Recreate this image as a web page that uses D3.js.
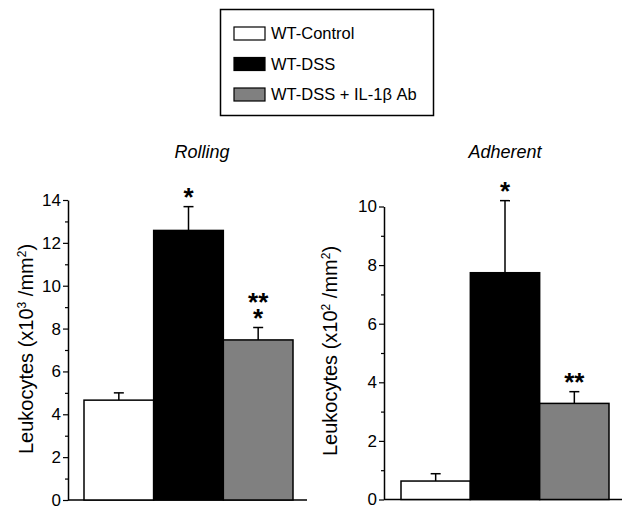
<!DOCTYPE html>
<html>
<head>
<meta charset="utf-8">
<script src="https://cdn.jsdelivr.net/npm/d3@7"></script>
<style>
  body { margin: 0; background: #fff; }
  text { font-family: "Liberation Sans", Arial, sans-serif; }
</style>
</head>
<body>
<script>
// groups and colours
var groups = ["WT-Control", "WT-DSS", "WT-DSS + IL-1\u03b2 Ab"];
var fills = ["#ffffff", "#000000", "#808080"];

// Rolling panel
var rollingMean = [4.66, 12.58, 7.47];
var rollingErr = [0.34, 1.11, 0.58];
var rollingStars = [[], ["*"], ["**", "*"]];
var rollingTicks = [0, 2, 4, 6, 8, 10, 12, 14];
var rollingMinor = [1, 3, 5, 7, 9, 11, 13];

// Adherent panel
var adherentMean = [0.63, 7.74, 3.28];
var adherentErr = [0.25, 2.46, 0.40];
var adherentStars = [[], ["*"], ["**"]];
var adherentTicks = [0, 2, 4, 6, 8, 10];
var adherentMinor = [1, 3, 5, 7, 9];

var w = 624, h = 506;

var svg = d3.select("body")
    .append("svg")
    .attr("width", w)
    .attr("height", h);

// legend
var legend = svg.append("g");
legend.append("rect")
    .attr("x", 220.5).attr("y", 9.5)
    .attr("width", 213).attr("height", 106)
    .attr("fill", "none")
    .attr("stroke", "#000")
    .attr("stroke-width", 1.5);

var legendY = d3.scalePoint().domain(groups).range([33, 94]);

legend.selectAll(".sw")
    .data(groups)
    .enter()
    .append("rect")
    .attr("x", 234)
    .attr("y", function (d) { return legendY(d) - 6; })
    .attr("width", 31)
    .attr("height", 13)
    .attr("fill", function (d, i) { return fills[i]; })
    .attr("stroke", "#000")
    .attr("stroke-width", 1.2);

legend.selectAll(".lt")
    .data(groups)
    .enter()
    .append("text")
    .attr("x", 271)
    .attr("y", function (d) { return legendY(d) + 6; })
    .attr("font-size", "16.5px")
    .text(function (d) { return d; });

function drawPanel(opt) {
    var g = svg.append("g");

    var y = d3.scaleLinear().domain([0, opt.max]).range([opt.y0, opt.y1]);
    var x = d3.scaleBand().domain(groups).range([opt.bx0, opt.bx1]).padding(0);

    // x axis line
    g.append("line")
        .attr("x1", opt.ax).attr("x2", opt.axEnd)
        .attr("y1", opt.y0).attr("y2", opt.y0)
        .attr("stroke", "#000").attr("stroke-width", 1.5);

    // minor ticks
    g.append("g")
        .attr("transform", "translate(" + opt.ax + ",0)")
        .call(d3.axisLeft(y).tickValues(opt.minor).tickSize(3).tickSizeOuter(0).tickFormat(""))
        .call(function (a) {
            a.select(".domain").remove();
            a.selectAll("line").attr("stroke-width", 1.2);
        });

    // major ticks
    g.append("g")
        .attr("transform", "translate(" + opt.ax + ",0)")
        .call(d3.axisLeft(y).tickValues(opt.ticks).tickSize(5).tickSizeOuter(0).tickPadding(2))
        .call(function (a) {
            a.select(".domain").attr("stroke-width", 1.5);
            a.selectAll("line").attr("stroke-width", 1.2);
            a.selectAll("text")
                .attr("font-size", "17px")
                .attr("font-family", "'Liberation Sans', Arial, sans-serif")
                .attr("fill", "#000");
        });

    // error bars
    g.selectAll(".err")
        .data(opt.mean)
        .enter()
        .append("line")
        .attr("x1", function (d, i) { return x(groups[i]) + x.bandwidth() / 2; })
        .attr("x2", function (d, i) { return x(groups[i]) + x.bandwidth() / 2; })
        .attr("y1", function (d) { return y(d); })
        .attr("y2", function (d, i) { return y(d + opt.err[i]); })
        .attr("stroke", "#000").attr("stroke-width", 1.5);

    g.selectAll(".cap")
        .data(opt.mean)
        .enter()
        .append("line")
        .attr("x1", function (d, i) { return x(groups[i]) + x.bandwidth() / 2 - 5; })
        .attr("x2", function (d, i) { return x(groups[i]) + x.bandwidth() / 2 + 5; })
        .attr("y1", function (d, i) { return y(d + opt.err[i]); })
        .attr("y2", function (d, i) { return y(d + opt.err[i]); })
        .attr("stroke", "#000").attr("stroke-width", 1.5);

    // bars
    g.selectAll(".bar")
        .data(opt.mean)
        .enter()
        .append("rect")
        .attr("x", function (d, i) { return x(groups[i]); })
        .attr("y", function (d) { return y(d); })
        .attr("width", x.bandwidth())
        .attr("height", function (d) { return opt.y0 - y(d); })
        .attr("fill", function (d, i) { return fills[i]; })
        .attr("stroke", "#000")
        .attr("stroke-width", 1.5);

    // significance stars
    opt.stars.forEach(function (lines, i) {
        var top = y(opt.mean[i] + opt.err[i]);
        lines.slice().reverse().forEach(function (s, j) {
            g.append("text")
                .attr("x", x(groups[i]) + x.bandwidth() / 2)
                .attr("y", top - 1 - j * 16)
                .attr("text-anchor", "middle")
                .attr("font-size", "26px")
                .attr("font-weight", "bold")
                .text(s);
        });
    });

    // title
    g.append("text")
        .attr("x", opt.titleX)
        .attr("y", 158)
        .attr("text-anchor", "middle")
        .attr("font-size", "18px")
        .attr("font-style", "italic")
        .text(opt.title);

    // y label
    var lab = g.append("text")
        .attr("text-anchor", "middle")
        .attr("font-size", "20px")
        .attr("transform", "translate(" + opt.labX + "," + opt.labY + ") rotate(-90)");
    lab.append("tspan").text("Leukocytes (x10");
    lab.append("tspan").attr("font-size", "12px").attr("dy", "-7").text(opt.exp);
    lab.append("tspan").attr("dy", "7").text(" /mm");
    lab.append("tspan").attr("font-size", "12px").attr("dy", "-7").text("2");
    lab.append("tspan").attr("dy", "7").text(")");
}

drawPanel({
    mean: rollingMean, err: rollingErr, stars: rollingStars,
    ticks: rollingTicks, minor: rollingMinor, max: 14,
    y0: 500, y1: 200, bx0: 84, bx1: 293, ax: 68, axEnd: 307,
    title: "Rolling", titleX: 202, exp: "3", labX: 33, labY: 349
});

drawPanel({
    mean: adherentMean, err: adherentErr, stars: adherentStars,
    ticks: adherentTicks, minor: adherentMinor, max: 10,
    y0: 499.5, y1: 206.5, bx0: 401, bx1: 609, ax: 384, axEnd: 622,
    title: "Adherent", titleX: 505, exp: "2", labX: 337, labY: 351
});
</script>
</body>
</html>
